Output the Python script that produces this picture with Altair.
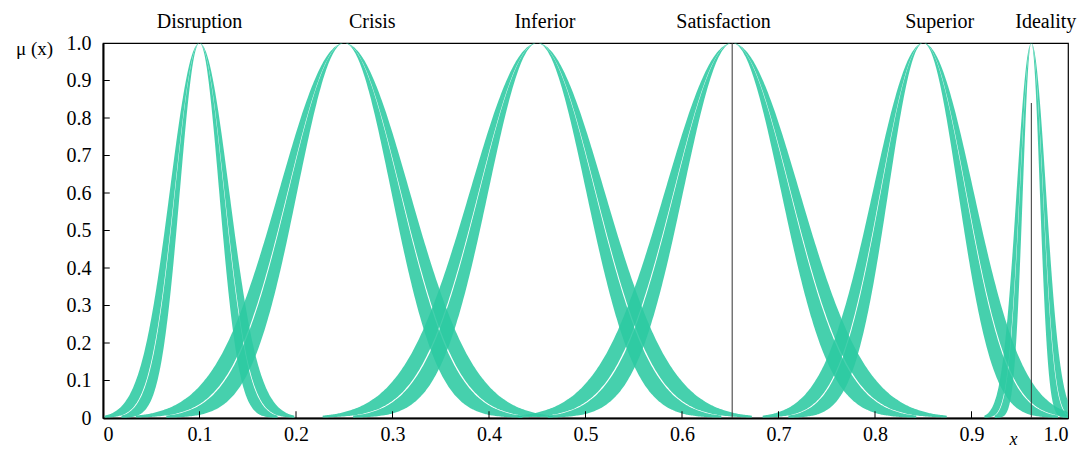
import altair as alt
import numpy as np
import pandas as pd

# Cloud parameters
names = ["Disruption", "Crisis", "Inferior", "Satisfaction", "Superior", "Ideality"]
ex = [0.100, 0.250, 0.450, 0.652, 0.850, 0.962]
en = [0.0255, 0.058, 0.060, 0.060, 0.044, 0.012]
he = [0.0052, 0.0095, 0.0095, 0.0095, 0.008, 0.0032]
label_x = [0.100, 0.279, 0.458, 0.643, 0.867, 0.977]

# Reference lines (evaluated results)
ref_x = [0.652, 0.962]
ref_top = [1.0, 0.84]

tick_vals = [round(0.1 * i, 1) for i in range(11)]

color = "#2cc9a2"

rows = []
for n, e, s, h in zip(names, ex, en, he):
    strands = [(s - h, s - 0.04 * h), (s + 0.04 * h, s + h)]
    for k, (lo, hi) in enumerate(strands):
        xs = np.linspace(e - 3.2 * hi, e + 3.2 * hi, 240)
        for xv in xs:
            if xv < 0 or xv > 1:
                continue
            d = (xv - e) ** 2
            rows.append({"cloud": n, "strand": f"{n}-{k}", "x": xv,
                         "y": float(np.exp(-d / (2 * lo ** 2))),
                         "y2": float(np.exp(-d / (2 * hi ** 2)))})
df = pd.DataFrame(rows)

xscale = alt.Scale(domain=[0, 1], nice=False, zero=False)
yscale = alt.Scale(domain=[0, 1], nice=False, zero=False)

fmt = "datum.value == 0 ? '0' : format(datum.value, '.1f')"
serif = "Liberation Serif"

xaxis = alt.Axis(values=tick_vals, labelExpr=fmt, ticks=False, grid=False,
                 labelOverlap=False,
                 title="x", titleFontStyle="italic", titleFont=serif,
                 titleFontSize=18, titleFontWeight="normal",
                 titleX=910, titleY=21, titleBaseline="middle", titleAlign="center",
                 labelFont=serif, labelFontSize=20, labelPadding=6,
                 labelColor="black", domainColor="black", domainWidth=2)
yaxis = alt.Axis(values=tick_vals, labelExpr=fmt, ticks=False, grid=False,
                 labelOverlap=False,
                 title="μ (x)", titleAngle=0, titleFont=serif,
                 titleFontSize=19, titleFontWeight="normal",
                 titleX=-69, titleY=5, titleAlign="center", titleBaseline="middle",
                 labelFont=serif, labelFontSize=20, labelPadding=12,
                 labelColor="black", domainColor="black", domainWidth=2)


def X(f):
    return alt.X(f, scale=xscale, axis=xaxis)


def Y(f):
    return alt.Y(f, scale=yscale, axis=yaxis)


bands = alt.Chart(df).mark_area(color=color, opacity=0.88, clip=True, interpolate="monotone").encode(
    x=X("x:Q"), y=Y("y:Q"), y2="y2:Q", detail="strand:N",
)

refdf = pd.DataFrame({"x": ref_x, "top": ref_top, "bottom": [0.0, 0.0]})
refs = alt.Chart(refdf).mark_rule(color="#333333", strokeWidth=1).encode(
    x=X("x:Q"), y=Y("bottom:Q"), y2="top:Q")

tdf = pd.DataFrame({"v": tick_vals[1:-1], "z": 0.0, "t": 0.018, "zx": 0.0, "tx": 0.007})
xticks = alt.Chart(tdf).mark_rule(color="black", strokeWidth=1).encode(
    x=X("v:Q"), y=Y("z:Q"), y2="t:Q")
yticks = alt.Chart(tdf).mark_rule(color="black", strokeWidth=1).encode(
    y=Y("v:Q"), x=X("zx:Q"), x2="tx:Q")

ldf = pd.DataFrame({"name": names, "lx": label_x})
labels = alt.Chart(ldf).mark_text(font=serif, fontSize=20, color="black",
                                  baseline="middle", align="center").encode(
    x=X("lx:Q"), y=alt.value(-21), text="name:N")

chart = alt.layer(bands, refs, xticks, yticks, labels).properties(
    width=965, height=375,
    autosize=alt.AutoSizeParams(type="none"),
    padding={"left": 95, "top": 35, "right": 13, "bottom": 31},
    background="white",
).configure_view(stroke="black", strokeWidth=1.2)

chart.save("out.html", embed_options={"renderer": "svg", "actions": False})
